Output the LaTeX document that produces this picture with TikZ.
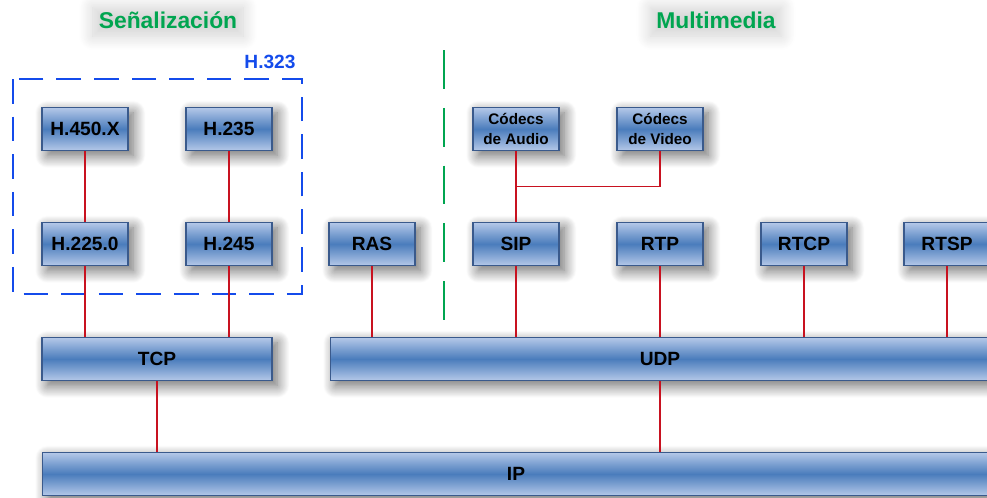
\documentclass[tikz,border=0pt]{standalone}
\usepackage{fontspec}
\setmainfont{Liberation Sans}
\usepackage{xcolor}
\usepackage{tikz}
\usetikzlibrary{shadows.blur,calc}

\definecolor{capaclaro}{RGB}{180,200,232}
\definecolor{capaoscuro}{RGB}{74,124,188}
\definecolor{capaborde}{RGB}{58,90,140}
\definecolor{enlace}{RGB}{200,18,32}
\definecolor{titulo}{RGB}{0,165,80}
\definecolor{grupoazul}{RGB}{20,75,235}

\begin{document}
\begin{tikzpicture}[
    x=0.02cm, y=-0.02cm,
    capa/.style={rectangle, draw=capaborde, line width=0.6pt,
        top color=capaclaro, bottom color=capaclaro, middle color=capaoscuro,
        minimum width=1.72cm, minimum height=0.86cm, inner sep=0pt, text centered,
        font=\fontsize{10.9}{12}\selectfont\bfseries,
        blur shadow={shadow xshift=3pt, shadow yshift=-3pt, shadow blur radius=7pt,
            shadow blur steps=16, shadow opacity=60}},
    codec/.style={capa, align=center, font=\fontsize{8.7}{11.3}\selectfont\bfseries},
    link/.style={draw=enlace, line width=1.1pt},
    tit/.style={font=\fontsize{13}{15}\selectfont\bfseries, text=titulo,
        blur shadow={shadow xshift=0pt, shadow yshift=-1pt, shadow blur radius=8pt,
            shadow blur steps=16, shadow opacity=18}},
    grupo/.style={draw=grupoazul, line width=1.3pt, dash pattern=on 14pt off 7.4pt}
]
    \useasboundingbox (0,0) rectangle (987,497);
    \clip (0,0) rectangle (987,497);

    % Titles
    \node[tit] (senal) at (168, 20) {Señalización};
    \node[tit] (multi) at (716, 20) {Multimedia};
    \node[font=\fontsize{10.9}{12}\selectfont\bfseries, text=grupoazul] (h323lbl) at (270, 62) {H.323};

    % H.323 group
    \draw[grupo] (13, 79) rectangle (302, 294);
    \node[capa] (h450) at (85, 129) {H.450.X};
    \node[capa] (h235) at (229, 129) {H.235};
    \node[capa] (h2250) at (85, 244) {H.225.0};
    \node[capa] (h245) at (229, 244) {H.245};
    \node[capa] (ras) at (372, 244) {RAS};

    % Divider
    \draw[draw=titulo, line width=1.6pt, dash pattern=on 22.1pt off 10.8pt] (444, 50) -- (444, 320);

    % --- Multimedia ---
    \node[codec] (audio) at (516, 129) {Códecs\\de Audio};
    \node[codec] (video) at (660, 129) {Códecs\\de Video};
    \node[capa] (sip) at (516, 244) {SIP};
    \node[capa] (rtp) at (660, 244) {RTP};
    \node[capa] (rtcp) at (804, 244) {RTCP};
    \node[capa] (rtsp) at (947, 244) {RTSP};

    % --- Transport / network ---
    \node[capa, minimum width=4.6cm] (tcp) at (157, 359) {TCP};
    \node[capa, minimum width=13.2cm] (udp) at (660, 359) {UDP};
    \node[capa, minimum width=18.96cm] (ip) at (516, 474) {IP};

    \draw[link] (h450) -- (h2250);
    \draw[link] (h235) -- (h245);
    \draw[link] (h2250) -- (h2250 |- tcp.north);
    \draw[link] (h245) -- (h245 |- tcp.north);
    \draw[link] (ras) -- (ras |- udp.north);
    \draw[link] (audio) -- (sip);
    \draw[link] (video) |- ($(audio.south)!0.5!(sip.north)$);
    \draw[link] (sip) -- (sip |- udp.north);
    \draw[link] (rtp) -- (rtp |- udp.north);
    \draw[link] (rtcp) -- (rtcp |- udp.north);
    \draw[link] (rtsp) -- (rtsp |- udp.north);
    \draw[link] (tcp) -- (tcp |- ip.north);
    \draw[link] (udp) -- (udp |- ip.north);
\end{tikzpicture}
\end{document}
